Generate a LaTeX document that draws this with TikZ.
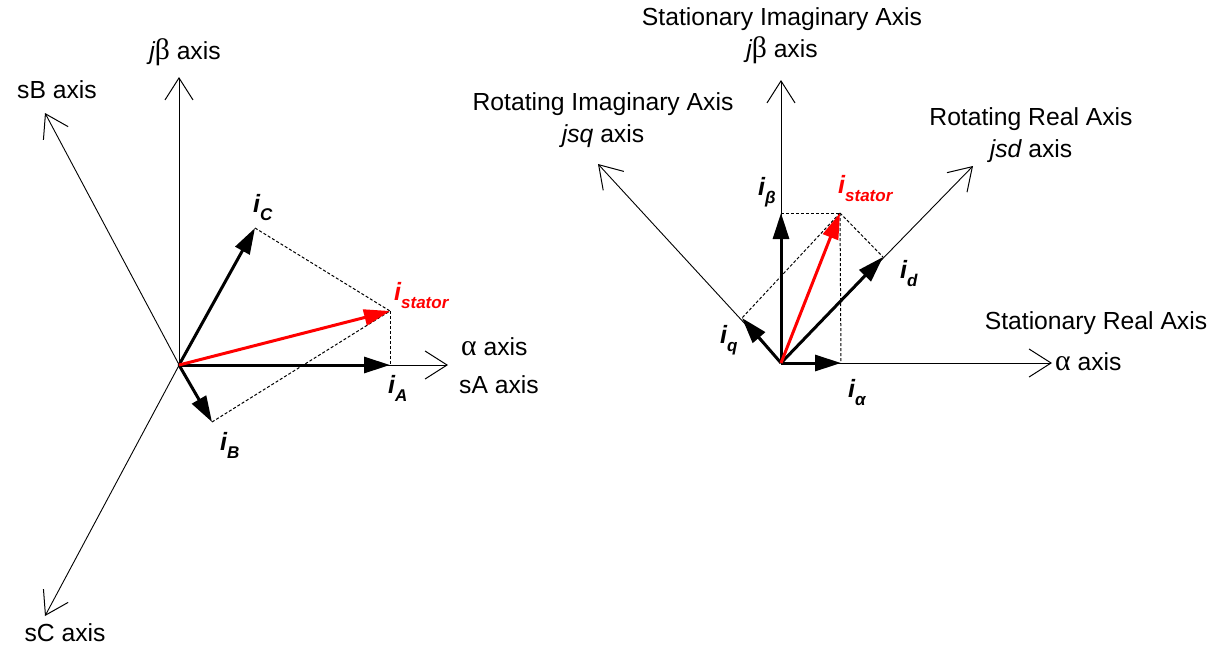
\documentclass[tikz,border=0pt]{standalone}
\usepackage{fontspec}
\setmainfont{Liberation Sans}
\newfontfamily\grkfont[Scale=1.2]{Liberation Serif}
\newcommand\grk[1]{{\grkfont #1}}
\usetikzlibrary{arrows.meta}
\newcommand\mysub[1]{\raisebox{-0.32em}{\fontsize{17}{17}\selectfont #1}}
\begin{document}
\begin{tikzpicture}[x=1pt,y=-1pt,
  axis/.style={line width=0.9pt,-{Straight Barb[length=22pt,width=28pt,line width=1pt]}},
  vec/.style={line width=3pt,-{Triangle[length=26pt,width=16pt]}},
  redvec/.style={vec,red},
  proj/.style={line width=1pt,dash pattern=on 3pt off 2pt},
  lbl/.style={font=\fontsize{24.7}{32}\selectfont,inner sep=0pt,align=center},
  ilbl/.style={font=\fontsize{25}{28}\selectfont\bfseries\itshape,inner sep=0pt,anchor=base west},
]
\useasboundingbox (0,0) rectangle (1212,649);

% ---------- left diagram ----------
\coordinate (O1) at (179,365);
\coordinate (sBend) at (184,374);
\coordinate (sCend) at (184,356);
\coordinate (JB1) at (179,77);
\coordinate (SB) at (45,113);
\coordinate (SC) at (45,616);
\coordinate (AL1) at (448,365);
\coordinate (IA) at (390,365);
\coordinate (IB) at (212,422);
\coordinate (IC) at (255,228);
\coordinate (IS1) at (390,311);

\draw[axis] (O1) -- (JB1);
\draw[axis] (sBend) -- (SB);
\draw[axis] (sCend) -- (SC);
\draw[axis] (O1) -- (AL1);

\draw[proj] (IC) -- (IS1);
\draw[proj] (IB) -- (IS1);
\draw[proj] (IS1) -- (IA);

\draw[vec] (O1) -- (IA);
\draw[vec] (O1) -- (IB);
\draw[vec] (O1) -- (IC);
\draw[redvec] (O1) -- (IS1);

\node[lbl] (tJB1) at (185,52) {{\itshape j}\grk{β} axis};
\node[lbl] (tSB) at (57,90) {sB axis};
\node[lbl] (tSC) at (65,633) {sC axis};
\node[lbl,anchor=west] (tAL1) at (461,347) {\grk{α} axis};
\node[lbl,anchor=west] (tSA) at (459,385) {sA axis};
\node[ilbl] (lIC) at (253,212) {i\mysub{C}};
\node[ilbl,red] (lIS1) at (394,300) {i\mysub{stator}};
\node[ilbl] (lIA) at (388,393) {i\mysub{A}};
\node[ilbl] (lIB) at (220,450) {i\mysub{B}};

% ---------- right diagram ----------
\coordinate (O2) at (781,363);
\coordinate (JB2) at (781,80);
\coordinate (AL2) at (1052,363);
\coordinate (SD) at (973,166);
\coordinate (SQ) at (598,164);
\coordinate (IBe) at (781,213);
\coordinate (IAl) at (841,363);
\coordinate (IS2) at (840,213);
\coordinate (ID) at (883,257);
\coordinate (IQ) at (742,318);

\draw[axis] (O2) -- (JB2);
\draw[axis] (O2) -- (AL2);
\draw[axis] (O2) -- (SD);
\draw[axis] (O2) -- (SQ);

\draw[proj] (IBe) -- (IS2);
\draw[proj] (IS2) -- (IAl);
\draw[proj] (IS2) -- (ID);
\draw[proj] (IS2) -- (IQ);

\draw[vec] (O2) -- (IBe);
\draw[vec] (O2) -- (IAl);
\draw[vec] (O2) -- (ID);
\draw[vec] (O2) -- (IQ);
\draw[redvec] (O2) -- (IS2);

\node[lbl] (tJB2) at (782,36) {Stationary Imaginary Axis\\{\itshape j}\grk{β} axis};
\node[lbl] (tSQ) at (603,120) {Rotating Imaginary Axis\\{\itshape jsq} axis};
\node[lbl] (tSD) at (1031,135) {Rotating Real Axis\\{\itshape jsd} axis};
\node[lbl] (tSR) at (1096,323) {Stationary Real Axis};
\node[lbl,anchor=west] (tAL2) at (1055,362) {\grk{α} axis};
\node[ilbl] (lIBe) at (758,195) {i\mysub{β}};
\node[ilbl,red] (lIS2) at (838,193) {i\mysub{stator}};
\node[ilbl] (lID) at (900,278) {i\mysub{d}};
\node[ilbl] (lIQ) at (720,343) {i\mysub{q}};
\node[ilbl] (lIAl) at (848,397) {i\mysub{α}};
\end{tikzpicture}
\end{document}
